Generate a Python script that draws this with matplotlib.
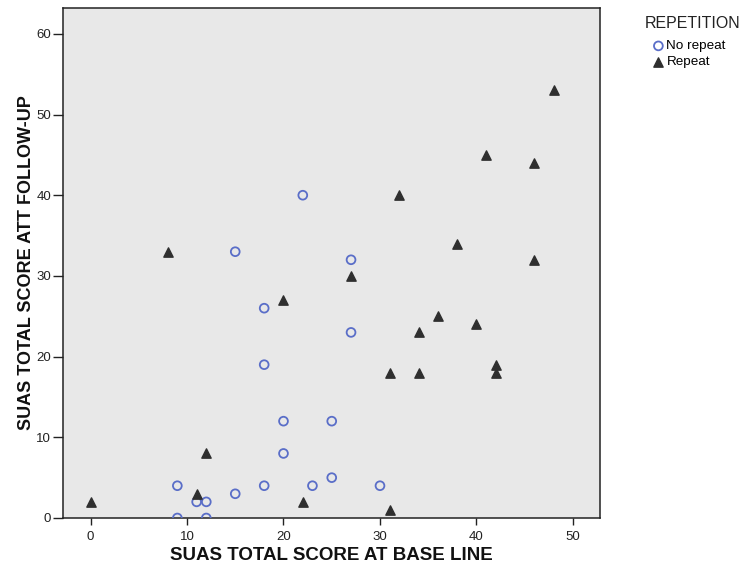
import matplotlib
import numpy as np

matplotlib.use("Agg")
import matplotlib.pyplot as plt  # noqa: E402

plt.rcParams["font.family"] = ["Liberation Sans", "DejaVu Sans"]

# No repeat group (open circles)
no_repeat_base = [22, 15, 27, 18, 27, 18, 20, 25, 20, 9, 18, 23, 30, 25, 15, 11, 12, 9, 12]
no_repeat_follow = [40, 33, 32, 26, 23, 19, 12, 12, 8, 4, 4, 4, 4, 5, 3, 2, 2, 0, 0]

# Repeat group (filled triangles)
repeat_base = [48, 41, 46, 32, 38, 8, 27, 46, 20, 36, 40, 34, 42, 42, 31, 34, 12, 11, 0, 22, 31]
repeat_follow = [53, 45, 44, 40, 34, 33, 30, 32, 27, 25, 24, 23, 19, 18, 18, 18, 8, 3, 2, 2, 1]

x_ticks = [0, 10, 20, 30, 40, 50]
y_ticks = [0, 10, 20, 30, 40, 50, 60]

W, H = 741, 569
fig = plt.figure(figsize=(W / 100, H / 100), dpi=100)
ax = fig.add_axes([63 / W, 1 - 518 / H, 537 / W, 510 / H])
ax.set_facecolor("#e8e8e8")

ax.scatter(no_repeat_base, no_repeat_follow, s=40, facecolors="none",
           edgecolors="#5a6ec8", linewidths=1.3, marker="o", label="No repeat", zorder=3)
ax.scatter(repeat_base, repeat_follow, s=45, color="#2f2f2f", marker="^",
           label="Repeat", zorder=3)

ax.set_xlim(-2.85, 52.8)
ax.set_ylim(0, 63.2)
ax.set_xticks(x_ticks)
ax.set_yticks(y_ticks)
ax.tick_params(axis="both", direction="out", width=1, colors="#222222",
               labelsize=9.5, labelcolor="#222222")
ax.tick_params(axis="x", length=5, pad=4.5)
ax.tick_params(axis="y", length=7, pad=1.5)

for side in ["left", "right", "top", "bottom"]:
    ax.spines[side].set_color("#222222")
    ax.spines[side].set_linewidth(1.1)

ax.set_xlabel("SUAS TOTAL SCORE AT BASE LINE", fontsize=13.5, fontweight="bold",
              color="#111111", labelpad=3)
ax.set_ylabel("SUAS TOTAL SCORE ATT FOLLOW-UP", fontsize=13, fontweight="bold",
              color="#111111", labelpad=1)

# legend, SPSS style: title on top, items indented below
fig.text(645 / W, 1 - 23 / H, "REPETITION", fontsize=11.5, color="#222222",
         ha="left", va="center")
handles, labels = ax.get_legend_handles_labels()
fig.legend(handles, labels, loc="upper left", bbox_to_anchor=(653 / W, 1 - 40 / H),
           frameon=False, fontsize=9.7, borderpad=0, borderaxespad=0,
           handlelength=0.8, handletextpad=0.2, labelspacing=0.25, scatterpoints=1)

fig.savefig("out.png", dpi=100)
plt.close(fig)
